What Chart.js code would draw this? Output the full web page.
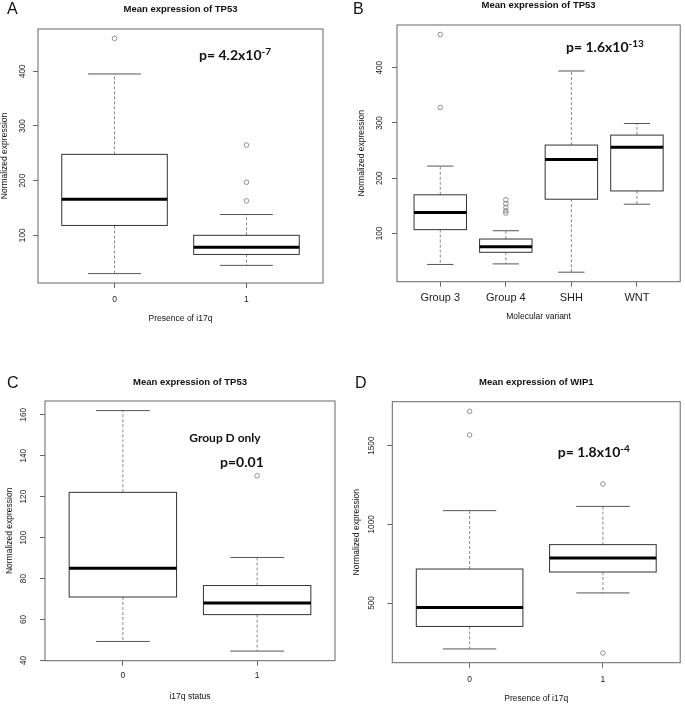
<!DOCTYPE html>
<html><head><meta charset="utf-8">
<script src="https://cdn.jsdelivr.net/npm/chart.js@4.4.1/dist/chart.umd.min.js"></script>
<style>
html,body{margin:0;padding:0;background:#fff;width:685px;height:704px;overflow:hidden;position:relative}
.p{position:absolute}
</style></head><body>
<div class="p" style="left:0;top:0;width:340px;height:340px"><canvas id="cA"></canvas></div>
<div class="p" style="left:340px;top:0;width:345px;height:340px"><canvas id="cB"></canvas></div>
<div class="p" style="left:0;top:340px;width:340px;height:364px"><canvas id="cC"></canvas></div>
<div class="p" style="left:340px;top:340px;width:345px;height:364px"><canvas id="cD"></canvas></div>
<script>
// ---------- Panel A ----------
const groupsA = ['0', '1'];
const whiskerLoA = [30, 45];
const q1A = [118, 65];
const medianA = [166, 78];
const q3A = [248, 100];
const whiskerHiA = [395, 138];
const outliersA = [[460], [265, 197, 163]];
const yTicksA = [100, 200, 300, 400];

// ---------- Panel B ----------
const groupsB = ['Group 3', 'Group 4', 'SHH', 'WNT'];
const whiskerLoB = [44, 45, 30, 153];
const q1B = [107, 66, 162, 177];
const medianB = [138, 76, 234, 256];
const q3B = [170, 90, 260, 278];
const whiskerHiB = [222, 105, 394, 299];
const outliersB = [[460, 328], [161, 154, 147, 141, 137], [], []];
const yTicksB = [100, 200, 300, 400];

// ---------- Panel C ----------
const groupsC = ['0', '1'];
const whiskerLoC = [49.3, 44.6];
const q1C = [71, 62.4];
const medianC = [85, 68.1];
const q3C = [122.1, 76.6];
const whiskerHiC = [162, 90.3];
const outliersC = [[], [130.2]];
const yTicksC = [40, 60, 80, 100, 120, 140, 160];

// ---------- Panel D ----------
const groupsD = ['0', '1'];
const whiskerLoD = [208, 564];
const q1D = [351, 697];
const medianD = [472, 786];
const q3D = [716, 871];
const whiskerHiD = [1087, 1114];
const outliersD = [[1718, 1568], [1256, 182]];
const yTicksD = [500, 1000, 1500];

const SANS = "'Liberation Sans', Arial, sans-serif";
const PFONT = "Lato, 'Open Sans', sans-serif";

const boxPlugin = {
  id: 'boxes',
  beforeDatasetsDraw(chart, args, o) {
    const ctx = chart.ctx, xs = chart.scales.x, ys = chart.scales.y;
    const half = xs.getPixelForValue(1.4) - xs.getPixelForValue(1);
    const cap = half / 2;
    const ln = (x1, y1, x2, y2) => { ctx.beginPath(); ctx.moveTo(x1, y1); ctx.lineTo(x2, y2); ctx.stroke(); };
    ctx.save();
    o.median.forEach((m, i) => {
      const cx = xs.getPixelForValue(i + 1);
      const pLo = ys.getPixelForValue(o.lo[i]), pQ1 = ys.getPixelForValue(o.q1[i]);
      const pM = ys.getPixelForValue(m), pQ3 = ys.getPixelForValue(o.q3[i]);
      const pHi = ys.getPixelForValue(o.hi[i]);
      ctx.lineWidth = 1;
      ctx.strokeStyle = '#8a8a8a';
      ctx.setLineDash([3, 2]);
      ln(cx, pQ3, cx, pHi); ln(cx, pQ1, cx, pLo);
      ctx.setLineDash([]);
      ctx.strokeStyle = '#555';
      ln(cx - cap, pHi, cx + cap, pHi); ln(cx - cap, pLo, cx + cap, pLo);
      ctx.strokeStyle = '#333';
      ctx.strokeRect(cx - half, pQ3, 2 * half, pQ1 - pQ3);
      ctx.strokeStyle = '#000'; ctx.lineWidth = 3;
      ln(cx - half, pM, cx + half, pM);
    });
    const a = chart.chartArea;
    ctx.strokeStyle = '#666'; ctx.lineWidth = 1;
    ctx.strokeRect(a.left, a.top, a.right - a.left, a.bottom - a.top);
    ctx.restore();
  },
  afterDraw(chart, args, o) {
    const ctx = chart.ctx;
    ctx.save();
    ctx.fillStyle = '#111';
    ctx.textBaseline = 'alphabetic';
    ctx.textAlign = 'left';
    ctx.font = '16px ' + SANS;
    ctx.fillText(o.letter[0], o.letter[1], o.letter[2]);
    (o.notes || []).forEach(n => {
      ctx.font = 'bold ' + n.size + 'px ' + PFONT;
      ctx.fillText(n.text, n.x, n.y);
      if (n.sup) {
        const w = ctx.measureText(n.text).width;
        ctx.font = 'bold ' + Math.round(n.size * 0.7) + 'px ' + PFONT;
        ctx.fillText(n.sup, n.x + w, n.y - 5);
      }
    });
    ctx.restore();
  }
};

function range(lo, hi, outs) {
  const all = lo.concat(hi, outs.flat());
  const mn = Math.min(...all), mx = Math.max(...all), r = mx - mn;
  return [mn - 0.04 * r, mx + 0.04 * r];
}

function makeChart(id, p) {
  const [ymin, ymax] = range(p.lo, p.hi, p.outliers);
  const n = p.groups.length;
  const pts = p.outliers.flatMap((arr, i) => arr.map(v => ({ x: i + 1, y: v })));
  new Chart(document.getElementById(id), {
    type: 'scatter',
    data: { datasets: [{ data: pts, pointRadius: 2.3, pointStyle: 'circle', borderColor: '#777', borderWidth: 0.8, backgroundColor: 'rgba(0,0,0,0)' }] },
    plugins: [boxPlugin],
    options: {
      responsive: true, maintainAspectRatio: false, animation: false,
      layout: { padding: p.pad },
      plugins: {
        legend: { display: false }, tooltip: { enabled: false },
        title: { display: true, fullSize: false, text: p.title, color: '#111', font: { family: SANS, size: 9.5, weight: 'bold' }, padding: p.titlePad },
        boxes: { lo: p.lo, q1: p.q1, median: p.median, q3: p.q3, hi: p.hi, letter: p.letter, notes: p.notes }
      },
      scales: {
        x: {
          type: 'linear', min: 0.5 - 0.04 * n, max: n + 0.5 + 0.04 * n,
          afterBuildTicks: s => { s.ticks = p.groups.map((g, i) => ({ value: i + 1 })); },
          afterFit: s => { s.height = p.xH; },
          ticks: { callback: v => p.groups[v - 1], color: '#222', font: { family: SANS, size: p.xFont }, padding: p.xTickPad, maxRotation: 0, minRotation: 0 },
          grid: { drawOnChartArea: false, drawTicks: true, tickLength: 5, color: '#666' },
          border: { display: false },
          title: { display: true, text: p.xTitle, color: '#111', font: { family: SANS, size: 8.5 }, padding: { top: 0, bottom: p.xTitlePad } }
        },
        y: {
          type: 'linear', min: ymin, max: ymax,
          afterBuildTicks: s => { s.ticks = p.yTicks.map(v => ({ value: v })); },
          afterFit: s => { s.width = p.yW; },
          ticks: { callback: v => String(v), color: '#222', font: { family: SANS, size: 8.2 }, padding: p.yTickPad, minRotation: 90, maxRotation: 90, crossAlign: 'center' },
          grid: { drawOnChartArea: false, drawTicks: true, tickLength: 5, color: '#666' },
          border: { display: false },
          title: { display: true, text: 'Normalized expression', color: '#111', font: { family: SANS, size: 8.5 }, padding: { top: p.yTitlePad, bottom: 0 } }
        }
      }
    }
  });
}

makeChart('cA', {
  groups: groupsA, lo: whiskerLoA, q1: q1A, median: medianA, q3: q3A, hi: whiskerHiA, outliers: outliersA, yTicks: yTicksA,
  title: 'Mean expression of TP53', xTitle: 'Presence of i17q',
  pad: { left: 0, right: 17, top: 0, bottom: 0 }, yW: 38, xH: 57,
  titlePad: { top: 3.5, bottom: 14.1 }, yTitlePad: 0, yTickPad: 3.4, xTickPad: 6.2, xTitlePad: 15.9, xFont: 8.5,
  letter: ['A', 7, 13.5],
  notes: [{ text: 'p= 4.2x10', sup: '-7', size: 14, x: 199, y: 59.5 }]
});
makeChart('cB', {
  groups: groupsB, lo: whiskerLoB, q1: q1B, median: medianB, q3: q3B, hi: whiskerHiB, outliers: outliersB, yTicks: yTicksB,
  title: 'Mean expression of TP53', xTitle: 'Molecular variant',
  pad: { left: 0, right: 2, top: 0, bottom: 0 }, yW: 57, xH: 58.3,
  titlePad: { top: 0, bottom: 13.6 }, yTitlePad: 16.6, yTickPad: 5.4, xTickPad: 4.7, xTitlePad: 18.2, xFont: 11,
  letter: ['B', 13, 13.5],
  notes: [{ text: 'p= 1.6x10', sup: '-13', size: 14, x: 226, y: 51.7 }]
});
makeChart('cC', {
  groups: groupsC, lo: whiskerLoC, q1: q1C, median: medianC, q3: q3C, hi: whiskerHiC, outliers: outliersC, yTicks: yTicksC,
  title: 'Mean expression of TP53', xTitle: 'i17q status',
  pad: { left: 0, right: 5, top: 0, bottom: 0 }, yW: 45, xH: 43.3,
  titlePad: { top: 36.8, bottom: 12.8 }, yTitlePad: 4.9, yTickPad: 9.6, xTickPad: 4.5, xTitlePad: 2.2, xFont: 8.5,
  letter: ['C', 7, 48],
  notes: [{ text: 'Group D only', size: 12, x: 189.3, y: 101.7 }, { text: 'p=0.01', size: 14, x: 220, y: 127.3 }]
});
makeChart('cD', {
  groups: groupsD, lo: whiskerLoD, q1: q1D, median: medianD, q3: q3D, hi: whiskerHiD, outliers: outliersD, yTicks: yTicksD,
  title: 'Mean expression of WIP1', xTitle: 'Presence of i17q',
  pad: { left: 0, right: 1.7, top: 0, bottom: 0 }, yW: 52.3, xH: 41.3,
  titlePad: { top: 36.3, bottom: 14 }, yTitlePad: 11.4, yTickPad: 6.8, xTickPad: 6.5, xTitlePad: 0, xFont: 8.5,
  letter: ['D', 15, 48],
  notes: [{ text: 'p= 1.8x10', sup: '-4', size: 14, x: 217.7, y: 116.7 }]
});
</script>
</body></html>
